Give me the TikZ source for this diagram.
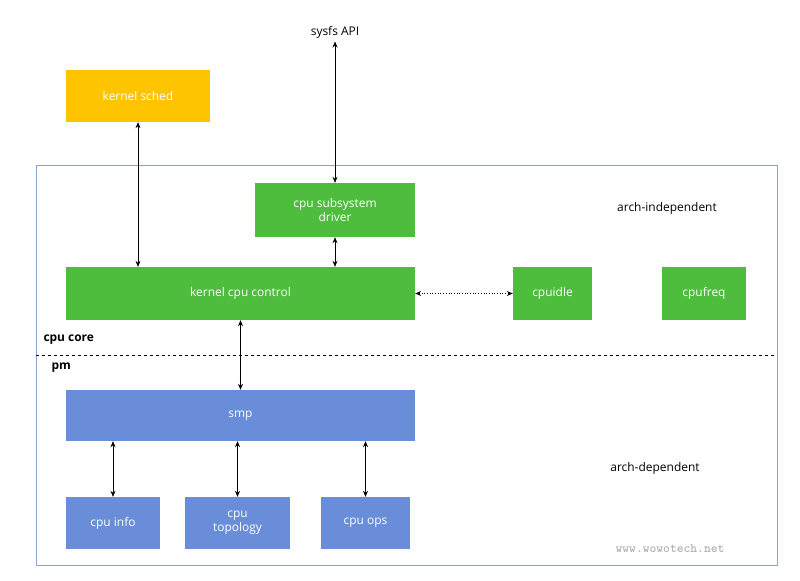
\documentclass[tikz,border=0pt]{standalone}
\usepackage{fontspec}
\setmainfont{Open Sans}
\usetikzlibrary{arrows.meta}
\definecolor{grn}{HTML}{4EBD3D}
\definecolor{blu}{HTML}{6A8DD9}
\definecolor{yel}{HTML}{FFC400}
\definecolor{frm}{HTML}{8EA3C4}
\begin{document}
\begin{tikzpicture}[x=1bp,y=-1bp,
  box/.style={draw=none,text=white,font=\fontsize{12}{14}\selectfont,align=center,inner sep=0pt},
  lbl/.style={font=\fontsize{12}{14}\selectfont},
  arr/.style={{Stealth[length=6pt,width=5pt]}-{Stealth[length=6pt,width=5pt]},line width=0.7pt}]
\useasboundingbox (0,0) rectangle (800,581);
\draw[frm,line width=0.8pt] (36,165) rectangle (777,565);
\draw[dashed,line width=0.6pt] (36,355) -- (777,355);
\node[lbl] (sysfs) at (335,32) {sysfs API};
\node[box,fill=yel,minimum width=144bp,minimum height=52bp] (sched) at (138,96) {kernel sched};
\node[box,fill=grn,minimum width=160bp,minimum height=54bp] (drv) at (335,210) {cpu subsystem\\driver};
\node[box,fill=grn,minimum width=349bp,minimum height=53bp] (kcc) at (240.5,293.5) {kernel cpu control};
\node[box,fill=grn,minimum width=79bp,minimum height=53bp] (idle) at (552.5,293.5) {cpuidle};
\node[box,fill=grn,minimum width=84bp,minimum height=53bp] (freq) at (704,293.5) {cpufreq};
\node[box,fill=blu,minimum width=349bp,minimum height=51bp] (smp) at (240.5,415.5) {smp};
\node[box,fill=blu,minimum width=94bp,minimum height=52bp] (info) at (113,523) {cpu info};
\node[box,fill=blu,minimum width=105bp,minimum height=52bp] (topo) at (237.5,523) {cpu\\topology};
\node[box,fill=blu,minimum width=89bp,minimum height=52bp] (ops) at (365.5,523) {cpu ops};
\node[lbl] (ai) at (667,208) {arch-independent};
\node[lbl] (ad) at (655,468) {arch-dependent};
\node[lbl,font=\fontsize{12}{14}\selectfont\bfseries,anchor=west] (core) at (40,340) {cpu core};
\node[lbl,font=\fontsize{12}{14}\selectfont\bfseries,anchor=west] (pm) at (48,368) {pm};
\node[font=\fontsize{13}{15}\selectfont\bfseries\ttfamily,text=gray!60] (wm) at (670,549) {www.wowotech.net};
\draw[arr] (sysfs.south) -- (drv.north);
\draw[arr] (sched.south) -- (sched.south |- kcc.north);
\draw[arr] (drv.south) -- (drv.south |- kcc.north);
\draw[arr,dotted] (kcc.east) -- (idle.west);
\draw[arr] (kcc.south) -- (smp.north);
\draw[arr] (info.north) -- (info.north |- smp.south);
\draw[arr] (topo.north) -- (topo.north |- smp.south);
\draw[arr] (ops.north) -- (ops.north |- smp.south);
\end{tikzpicture}
\end{document}
